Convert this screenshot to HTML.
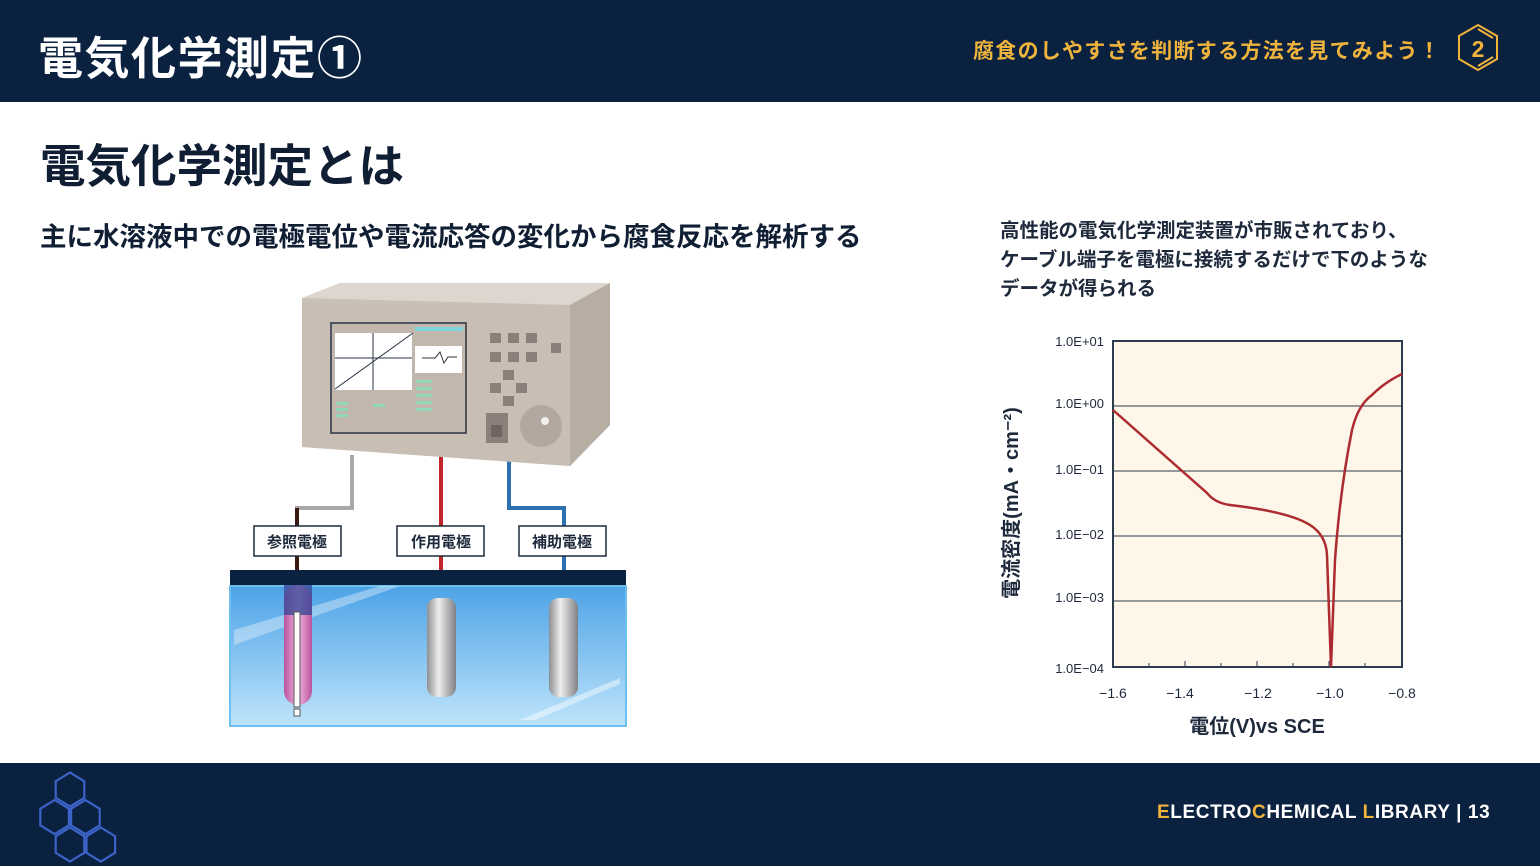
<!DOCTYPE html>
<html><head><meta charset="utf-8"><style>
*{margin:0;padding:0;box-sizing:border-box}
body{width:1540px;height:866px;position:relative;background:#fff;font-family:"Liberation Sans","Noto Sans CJK JP",sans-serif;overflow:hidden}
.hdr{position:absolute;left:0;top:0;width:1540px;height:102px;background:#0b2140}
.ftr{position:absolute;left:0;top:763px;width:1540px;height:103px;background:#0b2140}
.t{position:absolute;white-space:nowrap;font-weight:bold}
</style></head><body>
<div class="hdr"></div>
<div class="t" style="left:38px;top:22px;font-size:45px;color:#fff;letter-spacing:1.5px">電気化学測定①</div>
<div class="t" style="left:973px;top:35px;font-size:21px;color:#f0b43c;letter-spacing:1.3px">腐食のしやすさを判断する方法を見てみよう！</div>
<svg style="position:absolute;left:1455px;top:23px" width="48" height="50"><polygon points="23,2 42,13 42,36 23,47 4,36 4,13" fill="none" stroke="#f0b43c" stroke-width="2"/><line x1="23" y1="6" x2="38" y2="15" stroke="#f0b43c" stroke-width="2"/><line x1="38" y1="34" x2="23" y2="43" stroke="#f0b43c" stroke-width="2"/><text x="23" y="34" font-size="23" fill="#f0b43c" text-anchor="middle" font-family="Liberation Sans" font-weight="bold">2</text></svg>

<div class="t" style="left:40px;top:130px;font-size:45.5px;color:#0f1e33">電気化学測定とは</div>
<div class="t" style="left:40px;top:215px;font-size:26.5px;color:#0f1e33">主に水溶液中での電極電位や電流応答の変化から腐食反応を解析する</div>
<div class="t" style="left:1000px;top:217px;font-size:19.5px;color:#1e2a3c;line-height:29px">高性能の電気化学測定装置が市販されており、<br>ケーブル端子を電極に接続するだけで下のような<br>データが得られる</div>

<!-- apparatus -->
<svg style="position:absolute;left:0;top:0" width="960" height="763">
<defs>
<linearGradient id="w" x1="0" y1="0" x2="0" y2="1"><stop offset="0" stop-color="#4da3e6"/><stop offset="1" stop-color="#bfe4fb"/></linearGradient>
<linearGradient id="m" x1="0" y1="0" x2="1" y2="0"><stop offset="0" stop-color="#8d8f93"/><stop offset=".4" stop-color="#eeeeee"/><stop offset="1" stop-color="#7f8185"/></linearGradient>
<linearGradient id="p" x1="0" y1="0" x2="1" y2="0"><stop offset="0" stop-color="#b9549d"/><stop offset=".5" stop-color="#f2b6df"/><stop offset="1" stop-color="#b9549d"/></linearGradient>
</defs>
<polyline points="352,455 352,508 297,508 297,600" fill="none" stroke="#a8a8a8" stroke-width="4"/>
<polyline points="297,508 297,600" fill="none" stroke="#3a1a12" stroke-width="4"/>
<line x1="441" y1="455" x2="441" y2="600" stroke="#c0262c" stroke-width="4"/>
<polyline points="509,460 509,508 564,508 564,600" fill="none" stroke="#2e6fb0" stroke-width="4"/>
<polygon points="302,298 340,283 610,283 610,425 570,466 302,447" fill="#c9c0b6"/>
<polygon points="302,298 340,283 610,283 570,305" fill="#ddd6ce"/>
<polygon points="570,305 610,283 610,425 570,466" fill="#b8ada3"/>
<polygon points="302,305 570,305 570,466 302,447" fill="#c8beb4"/>
<rect x="331" y="323" width="135" height="110" fill="#c2b7ad" stroke="#2a3447" stroke-width="1.5"/>
<rect x="335" y="333" width="77" height="57" fill="#fff"/>
<line x1="335" y1="358" x2="412" y2="358" stroke="#2a3447"/><line x1="373" y1="333" x2="373" y2="390" stroke="#2a3447"/>
<line x1="335" y1="389" x2="413" y2="333" stroke="#2a3447"/>
<rect x="415" y="327" width="48" height="4" fill="#7fd6dc"/>
<rect x="415" y="346" width="47" height="27" fill="#fff"/>
<polyline points="422,358 435,358 440,352 444,363 448,357 457,357" fill="none" stroke="#333"/>
<g fill="#8fd9b8"><rect x="336" y="402" width="12" height="3"/><rect x="336" y="408" width="12" height="3"/><rect x="336" y="414" width="12" height="3"/><rect x="373" y="404" width="12" height="3"/><rect x="416" y="380" width="16" height="3"/><rect x="416" y="387" width="16" height="3"/><rect x="416" y="394" width="16" height="3"/><rect x="416" y="401" width="16" height="3"/><rect x="416" y="408" width="16" height="3"/></g>
<g fill="#8a8079"><rect x="490" y="333" width="11" height="10"/><rect x="508" y="333" width="11" height="10"/><rect x="526" y="333" width="11" height="10"/><rect x="551" y="343" width="10" height="10"/><rect x="490" y="352" width="11" height="10"/><rect x="508" y="352" width="11" height="10"/><rect x="526" y="352" width="11" height="10"/><rect x="503" y="370" width="11" height="10"/><rect x="490" y="383" width="11" height="10"/><rect x="516" y="383" width="11" height="10"/><rect x="503" y="396" width="11" height="10"/><rect x="486" y="413" width="22" height="30"/></g>
<rect x="491" y="425" width="11" height="12" fill="#6e655f"/>
<circle cx="541" cy="426" r="21" fill="#b3a89f"/><circle cx="545" cy="421" r="4" fill="#f2eee9"/>
<rect x="230" y="570" width="396" height="16" fill="#0b2140"/>
<rect x="230" y="586" width="396" height="140" fill="url(#w)" stroke="#6cc0f0" stroke-width="2"/>
<polygon points="234,630 380,586 400,586 234,645" fill="#fff" opacity=".35"/>
<polygon points="520,720 620,678 620,684 535,720" fill="#fff" opacity=".45"/>
<rect x="284" y="585" width="28" height="120" rx="14" fill="url(#p)"/>
<rect x="284" y="585" width="28" height="30" fill="#3b4a9a" opacity=".8"/>
<rect x="294" y="612" width="6" height="95" fill="#fff" stroke="#555" stroke-width="1"/>
<rect x="294" y="709" width="6" height="7" fill="#fff" stroke="#555"/>
<rect x="427" y="598" width="29" height="99" rx="10" fill="url(#m)"/>
<rect x="549" y="598" width="29" height="99" rx="10" fill="url(#m)"/>
<g font-family="Liberation Sans,Noto Sans CJK JP,sans-serif" font-weight="bold" font-size="15" fill="#1e2a3c" text-anchor="middle">
<rect x="254" y="526" width="87" height="30" fill="#fff" stroke="#1e2a3c" stroke-width="1.5"/><text x="297" y="547">参照電極</text>
<rect x="397" y="526" width="87" height="30" fill="#fff" stroke="#1e2a3c" stroke-width="1.5"/><text x="441" y="547">作用電極</text>
<rect x="519" y="526" width="87" height="30" fill="#fff" stroke="#1e2a3c" stroke-width="1.5"/><text x="562" y="547">補助電極</text>
</g>
</svg>

<svg style="position:absolute;left:0;top:0" width="1540" height="763" font-family="Liberation Sans,Noto Sans CJK JP,sans-serif">
<rect x="1113" y="341" width="289" height="326" fill="#fdf6e9" stroke="#2b3a4d" stroke-width="2"/>
<g stroke="#2b3a4d" stroke-width="1"><line x1="1113" y1="406" x2="1402" y2="406"/><line x1="1113" y1="471" x2="1402" y2="471"/><line x1="1113" y1="536" x2="1402" y2="536"/><line x1="1113" y1="601" x2="1402" y2="601"/>
<line x1="1149" y1="667" x2="1149" y2="663"/><line x1="1185" y1="667" x2="1185" y2="661"/><line x1="1221" y1="667" x2="1221" y2="663"/><line x1="1257" y1="667" x2="1257" y2="661"/><line x1="1293" y1="667" x2="1293" y2="663"/><line x1="1329" y1="667" x2="1329" y2="661"/><line x1="1365" y1="667" x2="1365" y2="663"/></g>
<path d="M1113,410 L1207,493 Q1215,503 1230,505 Q1290,512 1310,525 Q1326,535 1327,555 L1331,667 L1335,560 Q1340,490 1352,430 Q1358,405 1372,395 Q1385,382 1402,374" fill="none" stroke="#ad2b30" stroke-width="2.5"/>
<g font-size="13" fill="#1e2a3c" text-anchor="end"><text x="1104" y="346">1.0E+01</text><text x="1104" y="408">1.0E+00</text><text x="1104" y="474">1.0E−01</text><text x="1104" y="539">1.0E−02</text><text x="1104" y="602">1.0E−03</text><text x="1104" y="673">1.0E−04</text></g>
<g font-size="14" fill="#1e2a3c" text-anchor="middle"><text x="1113" y="698">−1.6</text><text x="1180" y="698">−1.4</text><text x="1258" y="698">−1.2</text><text x="1330" y="698">−1.0</text><text x="1402" y="698">−0.8</text></g>
<text x="1257" y="733" font-size="20" fill="#1e2a3c" text-anchor="middle" font-weight="bold">電位(V)vs SCE</text>
<text transform="translate(1018,503) rotate(-90)" font-size="20" fill="#1e2a3c" text-anchor="middle" font-weight="bold">電流密度(mA・cm⁻²)</text>
</svg>

<div class="ftr"></div>
<svg style="position:absolute;left:26px;top:767px" width="110" height="100" fill="none" stroke="#3c63c8" stroke-width="2">
<g transform="scale(1.1)">
<polygon points="40,5 53,13 53,28 40,36 27,28 27,13"/>
<polygon points="26,30 39,38 39,53 26,61 13,53 13,38"/>
<polygon points="54,30 67,38 67,53 54,61 41,53 41,38"/>
<polygon points="40,55 53,63 53,78 40,86 27,78 27,63"/>
<polygon points="68,55 81,63 81,78 68,86 55,78 55,63"/>
</g>
</svg>
<div class="t" style="left:1157px;top:802px;font-size:19px;color:#fff;letter-spacing:0.6px"><span style="color:#f0b43c">E</span>LECTRO<span style="color:#f0b43c">C</span>HEMICAL <span style="color:#f0b43c">L</span>IBRARY | 13</div>
</body></html>
